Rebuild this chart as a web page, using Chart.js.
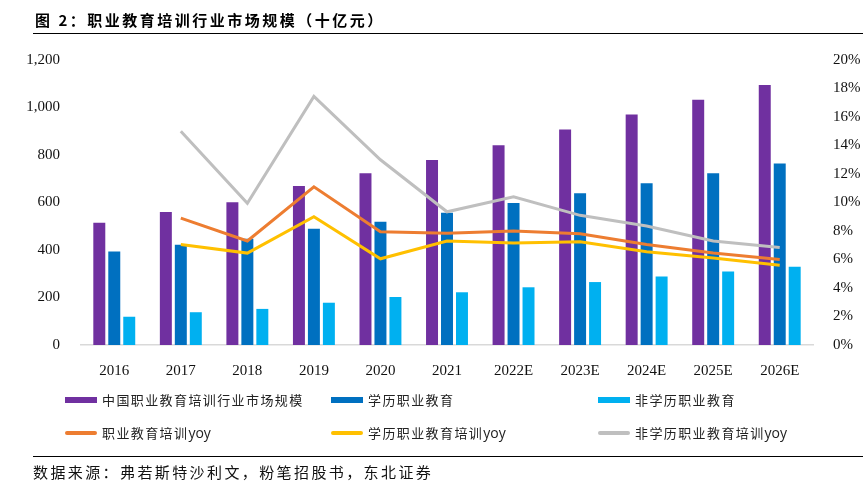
<!DOCTYPE html>
<html>
<head>
<meta charset="utf-8">
<script src="https://cdn.jsdelivr.net/npm/chart.js@4.4.0/dist/chart.umd.min.js"></script>
<style>
    body { margin: 0; background: #fff; }
    #pagina { position: relative; width: 866px; height: 486px; overflow: hidden; }
    #grafico_div { position: absolute; left: 0; top: 0; width: 866px; height: 486px; }
    .titulo { position: absolute; left: 35px; top: 9px; font: bold 15px "Noto Sans CJK SC"; letter-spacing: 2.5px; color: #000; white-space: nowrap; }
    .regua { position: absolute; left: 33px; width: 830px; height: 1px; background: #000; }
    .fonte { position: absolute; left: 33px; top: 461px; font: 15px "Noto Sans CJK SC"; letter-spacing: 2.4px; color: #111; white-space: nowrap; }
    .legenda-item { position: absolute; height: 20px; font: 13px "Noto Sans CJK SC"; letter-spacing: 1.4px; color: #222; white-space: nowrap; }
    .legenda-item span.cor { position: absolute; left: 0; width: 32px; }
    .legenda-item span.texto { position: absolute; left: 37px; top: 0; line-height: 20px; }
    .legenda-item span.latino { letter-spacing: 0; font-family: "Open Sans", "Noto Sans", sans-serif; font-size: 14px; }
</style>
</head>
<body>
<div id="pagina">
    <div id="grafico_div"><canvas id="grafico_mercado"></canvas></div>
    <div class="titulo">图 2：职业教育培训行业市场规模（十亿元）</div>
    <div class="regua" style="top:33px"></div>
    <div class="regua" style="top:456px"></div>
    <div class="fonte">数据来源：弗若斯特沙利文，粉笔招股书，东北证券</div>
    <div id="legenda"></div>
</div>
<script>
/*Dados do gráfico: mercado de educação profissional (十亿元) e crescimento anual*/
const anos = ['2016', '2017', '2018', '2019', '2020', '2021', '2022E', '2023E', '2024E', '2025E', '2026E'];

const nomes_barras = ['中国职业教育培训行业市场规模', '学历职业教育', '非学历职业教育'];
const nomes_linhas = ['职业教育培训yoy', '学历职业教育培训yoy', '非学历职业教育培训yoy'];

const mercado_total = [515, 560, 601, 669, 723, 779, 841, 907, 971, 1033, 1095];
const mercado_academico = [394, 422, 447, 490, 519, 557, 598, 639, 681, 723, 764];
const mercado_nao_academico = [119, 138, 152, 178, 202, 222, 243, 265, 288, 309, 330];

const yoy_total = [null, 8.9, 7.3, 11.1, 7.95, 7.85, 8.0, 7.8, 7.05, 6.45, 6.0];
const yoy_academico = [null, 7.05, 6.45, 9.0, 6.05, 7.3, 7.15, 7.25, 6.55, 6.1, 5.6];
const yoy_nao_academico = [null, 15.0, 9.95, 17.45, 13.0, 9.35, 10.4, 9.1, 8.35, 7.3, 6.85];

const cores_barras = ['#7030A0', '#0070C0', '#00B0F0'];
const cores_linhas = ['#ED7D31', '#FFC000', '#BFBFBF'];

/*Legenda em três colunas*/
const colunas_legenda = [65, 331, 598];
var legenda = document.getElementById('legenda');
function itemLegenda(x, y, cor, texto, linha) {
    var item = document.createElement('div');
    item.className = 'legenda-item';
    item.style.left = x + 'px';
    item.style.top = (y - 10) + 'px';
    var swatch = document.createElement('span');
    swatch.className = 'cor';
    swatch.style.background = cor;
    if (linha) {
        swatch.style.height = '4px';
        swatch.style.top = '8px';
        swatch.style.borderRadius = '2px';
    } else {
        swatch.style.height = '6px';
        swatch.style.top = '7px';
    }
    var t = document.createElement('span');
    t.className = 'texto';
    // "yoy" fica sem espaçamento extra
    var partes = texto.split('yoy');
    t.appendChild(document.createTextNode(partes[0]));
    if (partes.length > 1) {
        var lat = document.createElement('span');
        lat.className = 'latino';
        lat.textContent = 'yoy';
        t.appendChild(lat);
    }
    item.appendChild(swatch);
    item.appendChild(t);
    legenda.appendChild(item);
}
for (let i = 0; i < 3; i++) {
    itemLegenda(colunas_legenda[i], 400, cores_barras[i], nomes_barras[i], false);
    itemLegenda(colunas_legenda[i], 433, cores_linhas[i], nomes_linhas[i], true);
}

const fonte_eixo = { family: '"Liberation Serif", "Times New Roman", serif', size: 15 };

function barra(indice, dados) {
    return {
        type: 'bar',
        label: nomes_barras[indice],
        data: dados,
        backgroundColor: cores_barras[indice],
        yAxisID: 'y',
        order: 1,
        categoryPercentage: 0.675,
        barPercentage: 0.8
    };
}

function linha(indice, dados) {
    return {
        type: 'line',
        label: nomes_linhas[indice],
        data: dados,
        borderColor: cores_linhas[indice],
        backgroundColor: cores_linhas[indice],
        borderWidth: 3,
        pointRadius: 0,
        tension: 0,
        yAxisID: 'y1',
        order: 0
    };
}

const data_mercado = {
    labels: anos,
    datasets: [
        linha(0, yoy_total),
        linha(1, yoy_academico),
        linha(2, yoy_nao_academico),
        barra(0, mercado_total),
        barra(1, mercado_academico),
        barra(2, mercado_nao_academico)
    ]
};

const config_mercado = {
    type: 'bar',
    data: data_mercado,
    options: {
        responsive: false,
        animation: false,
        layout: { padding: { top: 60, left: 0, right: 0, bottom: 0 } },
        plugins: {
            legend: { display: false },
            tooltip: { enabled: false }
        },
        scales: {
            x: {
                grid: { display: false },
                border: { display: true, color: '#d9d9d9', width: 1.5 },
                ticks: { color: '#111', font: fonte_eixo, padding: 9, maxRotation: 0 },
                afterFit: function (scale) { scale.height = 141; }
            },
            y: {
                position: 'left',
                min: 0,
                max: 1200,
                grid: { display: false },
                border: { display: false },
                ticks: { stepSize: 200, color: '#111', font: fonte_eixo, padding: 13 },
                afterFit: function (scale) { scale.width = 81; }
            },
            y1: {
                position: 'right',
                min: 0,
                max: 20,
                grid: { display: false },
                border: { display: false },
                ticks: {
                    stepSize: 2,
                    color: '#111',
                    font: fonte_eixo,
                    padding: 12,
                    callback: function (v) { return v + '%'; }
                },
                afterFit: function (scale) { scale.width = 53; }
            }
        }
    }
};

var canvas = document.getElementById('grafico_mercado');
canvas.width = 866;
canvas.height = 486;
const grafico_mercado = new Chart(canvas, config_mercado);
</script>
</body>
</html>
